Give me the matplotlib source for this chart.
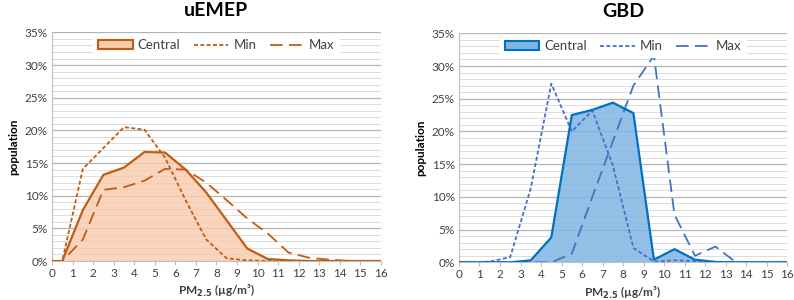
import matplotlib
matplotlib.use("Agg")
import matplotlib.pyplot as plt
from matplotlib.patches import Patch
from matplotlib.lines import Line2D
from matplotlib.ticker import MultipleLocator, FuncFormatter

plt.rcParams['font.family'] = ['Lato', 'DejaVu Sans']

# bin centres (with 0 and 16 endpoints)
pm = [0, 0.5, 1.5, 2.5, 3.5, 4.5, 5.5, 6.5, 7.5, 8.5, 9.5, 10.5, 11.5, 12.5, 13.5, 14.5, 15.5, 16]

uemep_central = [0, 0, 7.8, 13.2, 14.3, 16.7, 16.6, 14.0, 10.5, 6.2, 1.9, 0.3, 0.1, 0.0, 0, 0, 0, 0]
uemep_min     = [0, 0, 14.1, 17.3, 20.5, 20.1, 15.8, 9.3, 3.3, 0.4, 0.1, 0.0, 0, 0, 0, 0, 0, 0]
uemep_max     = [0, 0, 3.3, 10.9, 11.3, 12.3, 14.1, 14.0, 12.0, 9.3, 6.5, 4.2, 1.3, 0.5, 0.2, 0, 0, 0]

gbd_central = [0, 0, 0, 0, 0.3, 3.8, 22.5, 23.3, 24.4, 22.8, 0.4, 2.0, 0.4, 0.05, 0, 0, 0, 0]
gbd_min     = [0, 0, 0.1, 0.8, 11.3, 27.3, 20.0, 23.2, 14.8, 2.2, 0.1, 0.3, 0.2, 0, 0, 0, 0, 0]
gbd_max     = [0, 0, 0, 0, 0, 0, 1.3, 10.0, 18.5, 27.0, 31.6, 7.3, 1.0, 2.4, 0, 0, 0, 0]

titles = ["uEMEP", "GBD"]
xlabel = "PM$_{\\mathbf{2.5}}$ (µg/m³)"

fig = plt.figure(figsize=(7.94, 3.0), dpi=100)
ax1 = fig.add_axes([0.0655, 0.13, 0.4143, 0.762])
ax2 = fig.add_axes([0.578, 0.1257, 0.4136, 0.7633])

def draw(ax, title, central, mn, mx, line_c, fill_c, dash_c, fill_alpha):
    c = [v / 100 for v in central]
    a = [v / 100 for v in mn]
    b = [v / 100 for v in mx]
    ax.fill_between(pm, c, 0, color=fill_c, alpha=fill_alpha, lw=0, zorder=2)
    ax.plot(pm, c, color=line_c, lw=1.6, zorder=4)
    ax.plot(pm, a, color=dash_c, lw=1.3, dashes=(2.2, 1.3), zorder=3)
    ax.plot(pm, b, color=dash_c, lw=1.3, dashes=(7, 3.5), zorder=3)
    ax.set_xlim(0, 16)
    ax.set_ylim(0, 0.35)
    ax.xaxis.set_major_locator(MultipleLocator(1))
    ax.yaxis.set_major_locator(MultipleLocator(0.05))
    ax.yaxis.set_minor_locator(MultipleLocator(0.01))
    ax.yaxis.set_major_formatter(FuncFormatter(lambda v, p: f"{v*100:.0f}%"))
    ax.grid(axis='y', which='major', color='#B4B4B4', lw=0.9, zorder=0)
    ax.grid(axis='y', which='minor', color='#DCDCDC', lw=0.7, zorder=0)
    ax.set_axisbelow(True)
    for s in ['top', 'right']:
        ax.spines[s].set_visible(False)
    ax.spines['left'].set_color('#BFBFBF')
    ax.spines['bottom'].set_color('#BFBFBF')
    ax.tick_params(axis='y', which='both', length=0, labelsize=8.5, colors='#404040', pad=3)
    ax.tick_params(axis='x', length=3, color='#BFBFBF', labelsize=8.5, labelcolor='#404040', pad=2)
    ax.set_title(title, fontsize=14, fontweight='bold', pad=12)
    ax.set_ylabel("population", fontsize=8.5, fontweight='bold', labelpad=4)
    ax.set_xlabel(xlabel, fontsize=8.5, fontweight='bold', labelpad=3, color='#404040')
    handles = [
        Patch(facecolor=fill_c, alpha=None, edgecolor=line_c, lw=1.5),
        Line2D([0], [0], color=dash_c, lw=1.3, dashes=(2.2, 1.3)),
        Line2D([0], [0], color=dash_c, lw=1.3, dashes=(7, 3.5)),
    ]
    leg = ax.legend(handles, ["Central", "Min", "Max"], loc='upper center',
                    bbox_to_anchor=(0.5, 1.01), ncol=3, frameon=True, fontsize=9.5,
                    handlelength=2.6, columnspacing=1.0, handletextpad=0.4,
                    borderaxespad=0.3)
    leg.get_frame().set_facecolor('white')
    leg.get_frame().set_edgecolor('none')
    leg.get_frame().set_alpha(1)
    for t in leg.get_texts():
        t.set_color('#404040')

draw(ax1, titles[0], uemep_central, uemep_min, uemep_max,
     '#C55A11', '#F8CBAD', '#C55A11', 0.8)
draw(ax2, titles[1], gbd_central, gbd_min, gbd_max,
     '#0070C0', '#7FB5E3', '#4472C4', 0.85)

fig.savefig("out.png", dpi=100)
